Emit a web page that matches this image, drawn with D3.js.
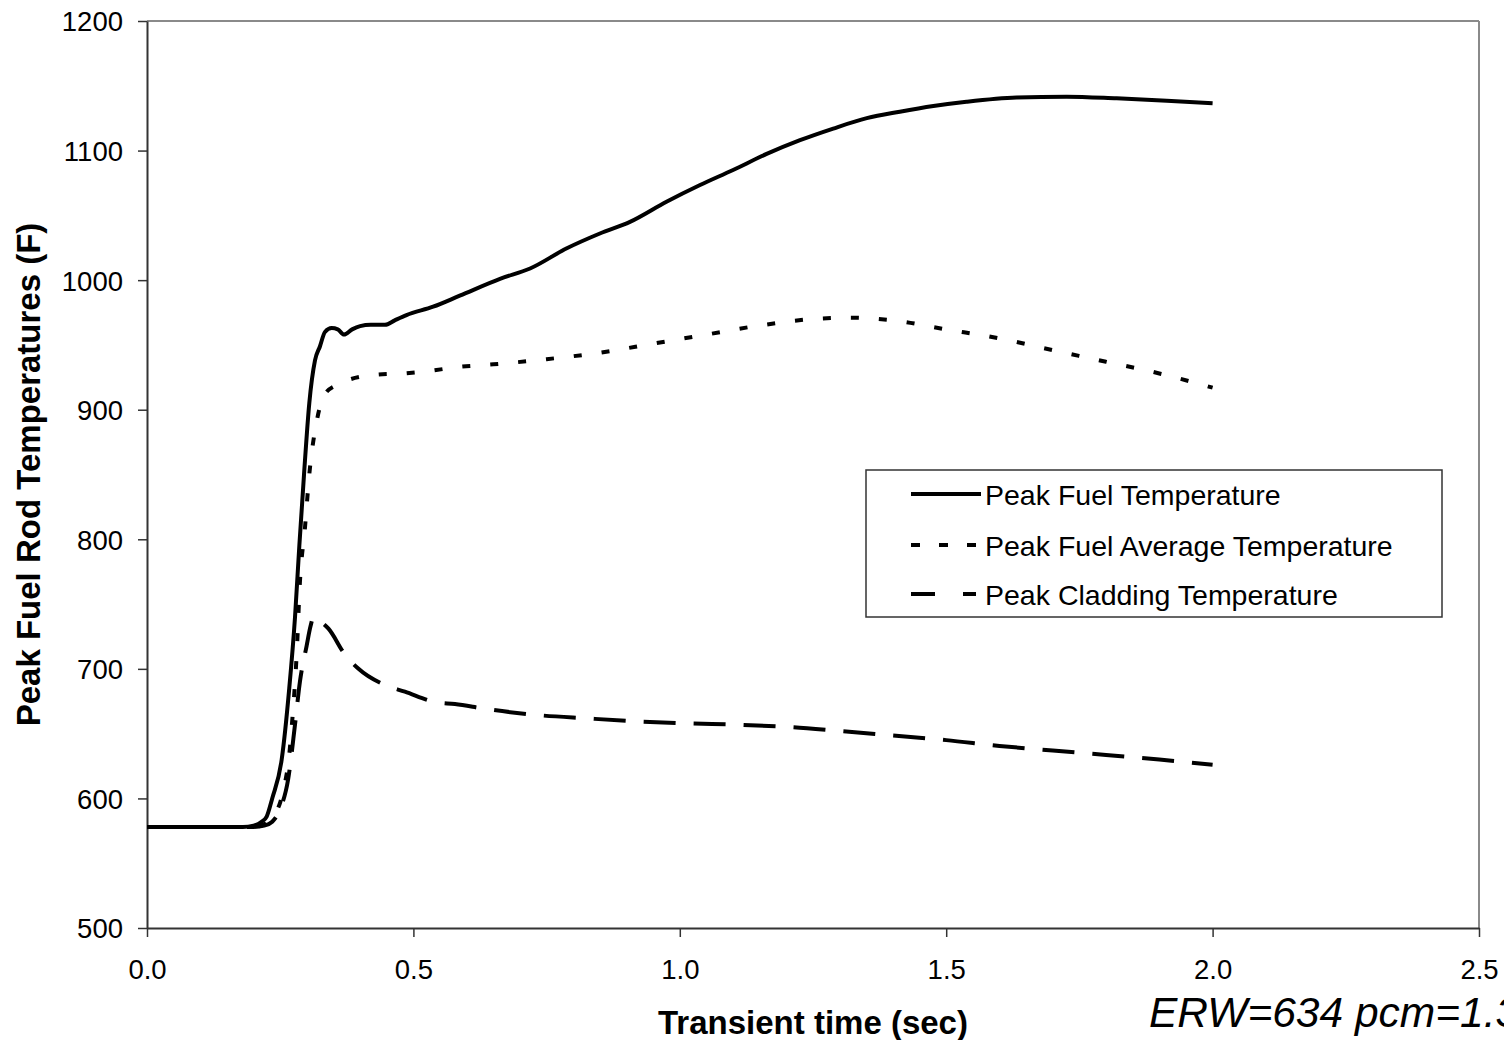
<!DOCTYPE html>
<html>
<head>
<meta charset="utf-8">
<script src="https://cdn.jsdelivr.net/npm/d3@7"></script>
<style>
  html, body { margin: 0; padding: 0; background: #fff; }
  svg { display: block; font-family: "Liberation Sans", Arial, sans-serif; }
</style>
</head>
<body>
<svg id="chart" width="1504" height="1040"></svg>
<script>
// Peak fuel rod temperatures (F) versus transient time (sec)
const peakFuel = [
  [0, 578], [0.1, 578], [0.18, 578], [0.2, 579], [0.215, 582], [0.2246, 586],
  [0.235, 600], [0.2528, 630], [0.267, 685], [0.2778, 740], [0.2859, 795],
  [0.2947, 850], [0.3046, 905], [0.3153, 938], [0.3247, 949], [0.334, 960],
  [0.3466, 963], [0.358, 962], [0.3697, 958], [0.385, 962], [0.40, 964.5],
  [0.42, 965.5], [0.4467, 965.5], [0.465, 969], [0.487, 973], [0.537, 979.5],
  [0.587, 988], [0.6625, 1001], [0.719, 1009], [0.788, 1024.6], [0.85, 1036],
  [0.9065, 1045], [0.975, 1060.5], [1.038, 1073.4], [1.1, 1085], [1.163, 1097.4],
  [1.2256, 1108], [1.288, 1117], [1.351, 1125], [1.413, 1130], [1.476, 1134.4],
  [1.538, 1137.7], [1.632, 1141], [1.726, 1141.6], [1.82, 1140.3], [1.914, 1138.5],
  [2.0, 1136.5]
];

const peakFuelAverage = [
  [0, 578], [0.1, 578], [0.2, 578], [0.22, 580], [0.232, 584], [0.24, 588],
  [0.25, 597], [0.259, 612], [0.266, 630], [0.272, 657], [0.281, 712],
  [0.287, 767], [0.2965, 809], [0.3046, 850], [0.3185, 891], [0.334, 912],
  [0.355, 919], [0.378, 923], [0.431, 927], [0.481, 928], [0.531, 930],
  [0.584, 933], [0.65, 935], [0.75, 939], [0.85, 944], [0.95, 951],
  [1.05, 958], [1.15, 965], [1.25, 970], [1.32, 971], [1.4, 969],
  [1.5, 962], [1.6, 955], [1.7, 946], [1.8, 937], [1.9, 928], [2.0, 917]
];

const peakCladding = [
  [0, 578], [0.1, 578], [0.2, 578], [0.22, 579], [0.235, 582], [0.25, 592],
  [0.265, 615], [0.2778, 657], [0.287, 690], [0.2997, 718], [0.307, 733],
  [0.3125, 740], [0.32, 738], [0.3406, 731], [0.3716, 711], [0.397, 700],
  [0.4467, 687.5], [0.484, 682.4], [0.5405, 674.4], [0.578, 672.8], [0.637, 669],
  [0.731, 664.4], [0.825, 661.8], [0.919, 659.5], [1.013, 658], [1.11, 656.9],
  [1.204, 655.1], [1.3, 652], [1.4, 648.5], [1.5, 645], [1.6, 640.5],
  [1.7, 637], [1.8, 633.5], [1.9, 630], [2.0, 626]
];

const xTicks = [0, 0.5, 1.0, 1.5, 2.0, 2.5];
const yTicks = [500, 600, 700, 800, 900, 1000, 1100, 1200];

const seriesNames = ["Peak Fuel Temperature", "Peak Fuel Average Temperature", "Peak Cladding Temperature"];
const seriesData = [peakFuel, peakFuelAverage, peakCladding];
const seriesDash = [null, "8,20", "32,18"];
const legendDash = [null, "9,19", "24,28"];

const xTitle = "Transient time (sec)";
const yTitle = "Peak Fuel Rod Temperatures (F)";
const note = "ERW=634 pcm=1.3";

// Layout
const plot = { left: 147, right: 1479, top: 21, bottom: 928 };

const svg = d3.select("#chart");
const x = d3.scaleLinear().domain([0, 2.5]).range([plot.left, plot.right]);
const y = d3.scaleLinear().domain([500, 1200]).range([plot.bottom, plot.top]);

// Top and right frame of the plot area
svg.append("line")
  .attr("x1", plot.left).attr("x2", plot.right)
  .attr("y1", plot.top).attr("y2", plot.top)
  .attr("stroke", "#8a8a8a").attr("stroke-width", 2);
svg.append("line")
  .attr("x1", plot.right).attr("x2", plot.right)
  .attr("y1", plot.top).attr("y2", plot.bottom)
  .attr("stroke", "#8a8a8a").attr("stroke-width", 2);

// Y axis
const yAxis = svg.append("g")
  .attr("transform", `translate(${plot.left},0)`)
  .call(d3.axisLeft(y).tickValues(yTicks).tickFormat(d3.format("d")).tickSize(9).tickSizeOuter(0));
yAxis.select(".domain").attr("stroke", "#333").attr("stroke-width", 2);
yAxis.selectAll(".tick line").attr("stroke", "#333").attr("stroke-width", 1.5);
yAxis.selectAll(".tick text")
  .attr("x", -24).attr("dy", "0.36em")
  .attr("font-size", 27.5).attr("fill", "#000")
  .attr("font-family", "Liberation Sans, Arial, sans-serif");

// X axis
const xAxis = svg.append("g")
  .attr("transform", `translate(0,${plot.bottom})`)
  .call(d3.axisBottom(x).tickValues(xTicks).tickFormat(d3.format(".1f")).tickSize(9).tickSizeOuter(0));
xAxis.select(".domain").attr("stroke", "#333").attr("stroke-width", 2);
xAxis.selectAll(".tick line").attr("stroke", "#333").attr("stroke-width", 1.5);
xAxis.selectAll(".tick text")
  .attr("y", 51).attr("dy", 0)
  .attr("font-size", 27.5).attr("fill", "#000")
  .attr("font-family", "Liberation Sans, Arial, sans-serif");

// Curves
const line = d3.line()
  .x(d => x(d[0]))
  .y(d => y(d[1]))
  .curve(d3.curveMonotoneX);

seriesData.forEach((data, i) => {
  svg.append("path")
    .datum(data)
    .attr("fill", "none")
    .attr("stroke", "#000")
    .attr("stroke-width", 4)
    .attr("stroke-dasharray", seriesDash[i])
    .attr("d", line);
});

// Legend
const legend = svg.append("g");
legend.append("rect")
  .attr("x", 866).attr("y", 470)
  .attr("width", 576).attr("height", 147)
  .attr("fill", "#fff").attr("stroke", "#333").attr("stroke-width", 1.5);

const rowY = [494, 545, 594];
seriesNames.forEach((name, i) => {
  legend.append("line")
    .attr("x1", 911).attr("x2", i === 0 ? 981 : 976)
    .attr("y1", rowY[i]).attr("y2", rowY[i])
    .attr("stroke", "#000").attr("stroke-width", 4)
    .attr("stroke-dasharray", legendDash[i]);
  legend.append("text")
    .attr("x", 985).attr("y", rowY[i] + 11)
    .attr("font-size", 28.5).attr("fill", "#000")
    .text(name);
});

// Axis titles
svg.append("text")
  .attr("x", (plot.left + plot.right) / 2).attr("y", 1034)
  .attr("text-anchor", "middle")
  .attr("font-size", 33).attr("font-weight", "bold")
  .text(xTitle);

svg.append("text")
  .attr("transform", `translate(40,${(plot.top + plot.bottom) / 2}) rotate(-90)`)
  .attr("text-anchor", "middle")
  .attr("font-size", 33).attr("font-weight", "bold")
  .text(yTitle);

// Case annotation
svg.append("text")
  .attr("x", 1149).attr("y", 1027)
  .attr("font-size", 42.5).attr("font-style", "italic")
  .text(note);
</script>
</body>
</html>
